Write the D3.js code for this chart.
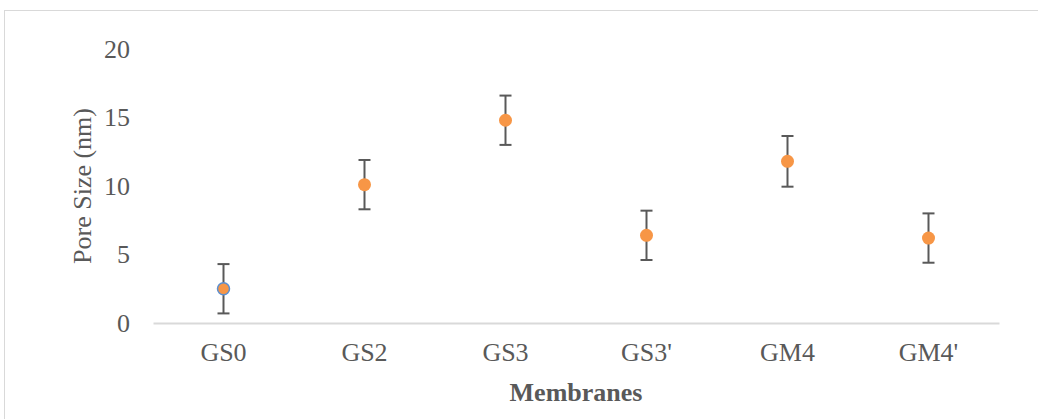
<!DOCTYPE html>
<html>
<head>
<meta charset="utf-8">
<script src="https://cdn.jsdelivr.net/npm/d3@7"></script>
<style>
  html, body { margin: 0; padding: 0; background: #fff; }
  svg { display: block; }
</style>
</head>
<body>
<svg id="chart" width="1038" height="419"></svg>
<script>
// Pore size per membrane, with standard deviation
const membranes = ["GS0", "GS2", "GS3", "GS3'", "GM4", "GM4'"];
const poreSize = [2.5, 10.1, 14.8, 6.4, 11.8, 6.2];
const poreError = [1.8, 1.8, 1.8, 1.8, 1.85, 1.8];
const yTicks = [0, 5, 10, 15, 20];

const svg = d3.select("#chart");
const font = "'Liberation Serif', 'Times New Roman', serif";
const fontSize = 26;
const textColor = "#595959";

// Outer chart frame
svg.append("rect")
  .attr("x", 4.5).attr("y", 10.5)
  .attr("width", 1040).attr("height", 420)
  .attr("fill", "none").attr("stroke", "#d9d9d9").attr("stroke-width", 1);

const plot = { left: 153, right: 999, top: 49, bottom: 323 };

const x = d3.scaleBand().domain(membranes).range([plot.left, plot.right]);
const y = d3.scaleLinear().domain([0, 20]).range([plot.bottom, plot.top]);

// Y axis labels (no line, no ticks)
const yAxis = svg.append("g")
  .attr("transform", `translate(${plot.left - 6},0)`)
  .call(d3.axisLeft(y).tickValues(yTicks).tickSize(0).tickPadding(17));
yAxis.select(".domain").remove();
yAxis.selectAll("text")
  .attr("font-family", font).attr("font-size", fontSize).attr("fill", textColor);

// X axis baseline and category labels
const xAxis = svg.append("g")
  .attr("transform", `translate(0,${plot.bottom})`)
  .call(d3.axisBottom(x).tickSize(0).tickPadding(20));
xAxis.select(".domain").attr("stroke", "#d9d9d9").attr("stroke-width", 2);
xAxis.selectAll("text")
  .attr("font-family", font).attr("font-size", fontSize).attr("fill", textColor);

// Axis titles
svg.append("text")
  .attr("transform", `translate(91,${y(10)}) rotate(-90)`)
  .attr("text-anchor", "middle")
  .attr("font-family", font).attr("font-size", fontSize).attr("fill", textColor)
  .text("Pore Size (nm)");

svg.append("text")
  .attr("x", 576).attr("y", 401)
  .attr("text-anchor", "middle")
  .attr("font-family", font).attr("font-size", fontSize).attr("font-weight", "bold")
  .attr("fill", textColor)
  .text("Membranes");

const data = membranes.map((m, i) => ({ m, v: poreSize[i], e: poreError[i] }));
const cx = d => x(d.m) + x.bandwidth() / 2;
const capHalf = 6;

// Error bars
const err = svg.append("g").attr("stroke", "#595959").attr("stroke-width", 2);
err.selectAll(".stem").data(data).join("line")
  .attr("x1", cx).attr("x2", cx)
  .attr("y1", d => y(d.v + d.e)).attr("y2", d => y(d.v - d.e));
err.selectAll(".capTop").data(data).join("line")
  .attr("x1", d => cx(d) - capHalf).attr("x2", d => cx(d) + capHalf)
  .attr("y1", d => y(d.v + d.e)).attr("y2", d => y(d.v + d.e));
err.selectAll(".capBot").data(data).join("line")
  .attr("x1", d => cx(d) - capHalf).attr("x2", d => cx(d) + capHalf)
  .attr("y1", d => y(d.v - d.e)).attr("y2", d => y(d.v - d.e));

// Markers
svg.append("g").selectAll("circle").data(data).join("circle")
  .attr("cx", cx).attr("cy", d => y(d.v))
  .attr("r", d => d.m === "GS0" ? 6 : 6.5)
  .attr("fill", "#f79646")
  .attr("stroke", d => d.m === "GS0" ? "#5b8fd0" : "none")
  .attr("stroke-width", 1.5);
</script>
</body>
</html>
